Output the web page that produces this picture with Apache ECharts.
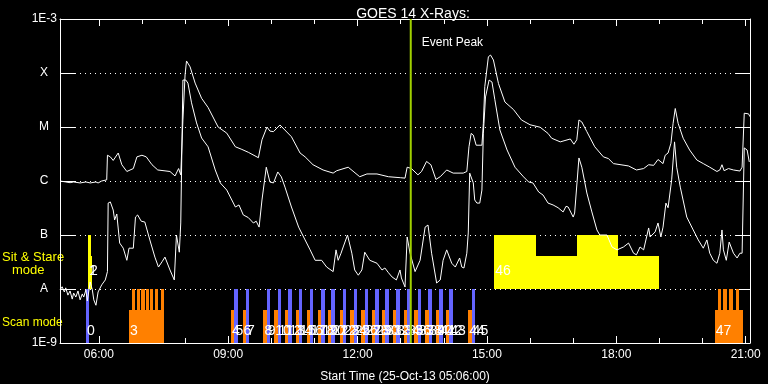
<!DOCTYPE html>
<html><head><meta charset="utf-8">
<script src="https://cdn.jsdelivr.net/npm/echarts@6/dist/echarts.min.js"></script>
<style>html,body{margin:0;padding:0;background:#000}#c{width:768px;height:384px}</style>
</head><body><div id="c"></div>
<script>
// ---------------- DATA ----------------
const titleText = 'GOES 14 X-Rays:';
const xAxisTitle = 'Start Time (25-Oct-13 05:06:00)';
const timeStart = '05:06', timeEnd = '21:06';
const xTickLabels = ['06:00','09:00','12:00','15:00','18:00','21:00'];
const xMinorTicks = ['06:00','07:00','08:00','09:00','10:00','11:00','12:00','13:00','14:00','15:00','16:00','17:00','18:00','19:00','20:00','21:00'];
const yTickLabels = ['1E-9','A','B','C','M','X','1E-3']; // 1e-9 ... 1e-3
const eventPeak = '13:14';

// GOES long channel (1-8 A), W/m^2
const goesLong = [
['05:06',1.0e-6],['05:14',9.6e-7],['05:20',9.3e-7],['05:25',9.6e-7],['05:34',9.2e-7],['05:42',9.6e-7],['05:48',9.2e-7],['05:56',9.6e-7],['05:59',9.2e-7],['06:04',1.0e-6],['06:11',1.05e-6],
['06:12',3.0e-6],['06:16',2.8e-6],['06:20',2.4e-6],['06:27',3.3e-6],['06:32',2.0e-6],['06:39',1.5e-6],['06:48',1.7e-6],['06:53',2.8e-6],['07:00',3.0e-6],['07:06',2.8e-6],['07:14',2.0e-6],['07:22',1.6e-6],['07:39',1.5e-6],['07:46',1.24e-6],['07:51',1.7e-6],['07:54',1.3e-6],
['07:57',1.35e-5],['08:00',9.2e-5],['08:02',1.67e-4],['08:04',1.6e-4],['08:07',1.3e-4],['08:14',6.5e-5],['08:23',3.4e-5],['08:32',2.3e-5],['08:46',1.0e-5],['08:58',7.7e-6],['09:10',4.3e-6],['09:18',3.9e-6],['09:28',3.4e-6],['09:42',2.7e-6],
['09:47',5.8e-6],['09:54',1.0e-5],['09:58',8.4e-6],['10:03',8.2e-6],['10:12',1.09e-5],['10:28',6.6e-6],['10:40',3.3e-6],['10:47',2.8e-6],['10:58',2.0e-6],['11:12',1.6e-6],['11:26',1.4e-6],['11:31',1.55e-6],['11:47',1.8e-6],['12:03',1.2e-6],['12:13',1.35e-6],['12:27',1.35e-6],['12:43',1.2e-6],['13:00',1.15e-6],['13:06',1.13e-6],
['13:09',1.8e-6],['13:15',1.7e-6],['13:24',1.3e-6],['13:29',1.5e-6],['13:36',2.3e-6],['13:42',2.0e-6],['13:49',1.07e-6],['13:55',1.2e-6],['14:04',1.6e-6],['14:13',1.4e-6],['14:27',1.4e-6],['14:32',1.5e-6],
['14:35',4.3e-6],['14:38',7.6e-6],['14:41',7.1e-6],['14:45',4.6e-6],['14:53',4.6e-6],['14:55',1.17e-5],['14:57',5.6e-5],['15:02',2.0e-4],['15:05',2.15e-4],['15:09',1.74e-4],['15:16',6.4e-5],['15:25',2.9e-5],['15:37',2.1e-5],['15:48',1.35e-5],['16:00',1.1e-5],['16:14',9.9e-6],['16:25',7.6e-6],['16:30',6.2e-6],['16:42',5.3e-6],['16:56',6.0e-6],['17:01',4.8e-6],['17:05',5.8e-6],
['17:08',1.35e-5],['17:12',1.24e-5],['17:19',8.2e-6],['17:30',4.3e-6],['17:42',2.8e-6],['17:49',2.6e-6],['17:56',2.1e-6],['18:17',1.9e-6],['18:28',1.6e-6],['18:38',1.7e-6],['18:45',2.0e-6],['18:52',1.95e-6],['18:58',2.5e-6],['19:05',2.1e-6],['19:08',3.0e-6],['19:12',3.3e-6],['19:16',5.0e-6],
['19:19',1.17e-5],['19:22',2.2e-5],['19:26',1.17e-5],['19:33',6.2e-6],['19:42',3.75e-6],['19:52',2.45e-6],['20:01',2.1e-6],['20:10',1.8e-6],['20:20',1.5e-6],['20:24',1.6e-6],['20:27',2.0e-6],['20:30',1.55e-6],['20:36',1.7e-6],['20:38',1.8e-6],['20:43',1.6e-6],['20:52',1.53e-6],['20:55',1.8e-6],
['20:58',1.8e-5],['21:04',1.75e-5],['21:06',1.55e-5]
];

// GOES short channel (0.5-4 A), W/m^2
const goesShort = [
['05:06',9.6e-9],['05:09',1.1e-8],['05:12',8.8e-9],['05:14',1.05e-8],['05:17',7.7e-9],['05:20',9.2e-9],['05:23',6.5e-9],['05:25',8.4e-9],['05:28',7.1e-9],['05:31',9.2e-9],['05:34',6.3e-9],['05:37',8.1e-9],['05:39',7.1e-9],['05:42',9.6e-9],['05:44',6.0e-9],['05:48',1.35e-8],['05:51',9.6e-9],['05:53',6.3e-9],['05:56',5.0e-9],['05:59',8.8e-9],['06:04',1.19e-8],['06:09',1.47e-8],['06:12',2.1e-8],
['06:13',3.9e-7],['06:16',4.1e-7],['06:20',2.9e-7],['06:22',1.9e-7],['06:25',2.45e-7],['06:29',7.1e-8],['06:34',5.7e-8],['06:39',3.4e-8],['06:42',5.7e-8],['06:48',5.7e-8],['06:51',2.15e-7],['06:54',2.35e-7],['06:59',1.8e-7],['07:04',1.74e-7],['07:11',8.1e-8],['07:18',3.9e-8],['07:23',2.55e-8],['07:28',3.2e-8],['07:32',3.9e-8],['07:39',2.25e-8],['07:45',1.47e-8],['07:48',1.0e-7],['07:52',4.8e-8],['07:54',1.67e-7],
['07:57',7.4e-5],['08:01',7.4e-5],['08:04',6.5e-5],['08:09',2.8e-5],['08:16',1.19e-5],['08:23',6.25e-6],['08:32',4.3e-6],['08:42',1.6e-6],['08:49',9.2e-7],['08:58',6.8e-7],['09:10',3.3e-7],['09:15',3.6e-7],['09:21',2.35e-7],['09:28',2.1e-7],['09:35',1.67e-7],['09:39',1.8e-7],['09:43',1.4e-7],
['09:47',4.45e-7],['09:53',1.8e-6],['09:58',9.6e-7],['10:03',9.2e-7],['10:09',1.47e-6],['10:14',1.19e-6],['10:19',7.7e-7],['10:28',3.3e-7],['10:38',1.4e-7],['10:47',8.1e-8],['10:54',5.3e-8],['11:01',3.4e-8],['11:10',3.4e-8],['11:17',2.55e-8],['11:26',2.1e-8],['11:30',5.3e-8],['11:33',3.4e-8],['11:37',4.6e-8],['11:40',6.0e-8],['11:46',1.0e-7],['11:52',4.6e-8],['11:56',2.25e-8],['12:01',1.8e-8],['12:06',2.25e-8],['12:10',4.8e-8],['12:17',3.4e-8],['12:27',3.0e-8],['12:34',2.25e-8],['12:38',2.45e-8],['12:43',2.0e-8],['12:48',1.67e-8],['12:54',1.47e-8],['12:59',2.25e-8],['13:01',1.6e-8],['13:06',1.09e-8],
['13:09',9.2e-8],['13:13',4.6e-8],['13:20',2.1e-8],['13:27',3.4e-8],['13:34',1.4e-7],['13:38',1.53e-7],['13:43',4.6e-8],['13:50',1.29e-8],['13:55',1.47e-8],['13:59',3.4e-8],['14:04',5.3e-8],['14:11',3.0e-8],['14:16',2.55e-8],['14:22',3.75e-8],['14:25',2.55e-8],['14:28',2.45e-8],['14:32',4.6e-8],['14:34',1.09e-7],
['14:36',1.4e-6],['14:41',9.2e-7],['14:43',4.45e-7],['14:46',3.9e-7],['14:50',3.9e-7],['14:53',6.8e-7],['14:55',7.7e-6],['14:58',3.6e-5],['15:03',7.4e-5],['15:07',6.8e-5],['15:11',3.2e-5],['15:18',8.8e-6],['15:28',3.75e-6],['15:39',1.8e-6],['15:51',1.19e-6],['15:58',9.6e-7],['16:04',9.2e-7],['16:12',6.25e-7],['16:18',5.5e-7],['16:25',3.9e-7],['16:32',3.6e-7],['16:39',3.2e-7],['16:46',2.67e-7],['16:50',3.4e-7],['16:53',3.3e-7],['17:00',2.15e-7],['17:02',2.55e-7],
['17:08',2.67e-6],['17:12',1.8e-6],['17:19',6.0e-7],['17:26',2.67e-7],['17:33',1.24e-7],['17:37',1.0e-7],['17:47',1.0e-7],['17:54',6.0e-8],['18:01',5.3e-8],['18:10',6.0e-8],['18:17',7.1e-8],['18:24',4.6e-8],['18:28',4.3e-8],['18:33',6.0e-8],['18:38',5.3e-8],['18:45',1.35e-7],['18:47',9.2e-8],['18:54',1.14e-7],['18:58',1.67e-7],['19:02',9.2e-8],['19:05',1.4e-7],['19:09',3.9e-7],['19:12',3.2e-7],
['19:17',1.05e-6],['19:21',5.3e-6],['19:24',1.8e-6],['19:29',7.7e-7],['19:38',2.15e-7],['19:47',1.24e-7],['19:54',8.1e-8],['20:01',5.7e-8],['20:06',8.1e-8],['20:10',4.6e-8],['20:15',3.4e-8],['20:20',3.0e-8],['20:24',4.6e-8],['20:27',1.24e-7],['20:29',5.3e-8],['20:33',3.4e-8],['20:37',7.4e-8],['20:43',4.6e-8],['20:48',3.75e-8],['20:52',4.6e-8],['20:55',4.6e-8],
['20:58',4.1e-6],['21:02',3.75e-6],['21:05',2.25e-6]
];

// IRIS observations
const scanDur = 4.7; // minutes per scan exposure
const scanBlue = [[0,'05:42'],[5,'09:08:40'],[7,'09:24:40'],[9,'09:53:40'],[11,'10:08:40'],[13,'10:23:40'],[15,'10:38:40'],[17,'10:53:40'],[19,'11:09:40'],[21,'11:23:40'],[23,'11:39:40'],[25,'11:54:40'],[27,'12:09:40'],[29,'12:24:40'],[31,'12:38:40'],[33,'12:53:40'],[35,'13:08:40'],[37,'13:23:40'],[39,'13:38:40'],[41,'13:53:40'],[43,'14:07:40'],[45,'14:38:40']];
const scanOrange = [[4,'09:04'],[6,'09:20'],[8,'09:49'],[10,'10:04'],[12,'10:19'],[14,'10:34'],[16,'10:49'],[18,'11:05'],[20,'11:19'],[22,'11:35'],[24,'11:50'],[26,'12:05'],[28,'12:20'],[30,'12:34'],[32,'12:49'],[34,'13:04'],[36,'13:19'],[38,'13:34'],[40,'13:49'],[42,'14:03'],[44,'14:34']];
const rasterIds = [3, 47];
const rasterSpans = [['06:42','07:31'],['20:17','20:56']];
const rasterSteps = [['06:46','06:53','06:59','07:05','07:11','07:18','07:26:30'],['20:21','20:29','20:37','20:46']];
// sit & stare: [id, start, end, full?]
const sitStare = [[1,'05:45','05:48',true],[2,'05:46:30','05:50',false],[46,'15:10','16:08',true],[46,'16:08','17:05',false],[46,'17:05','18:02',true],[46,'18:02','18:59',false]];

// ---------------- BUILD ----------------
function tm(s){const p=s.split(':').map(Number);return p[0]*60+p[1]+(p[2]||0)/60;}
const FONT = "'Liberation Sans', Arial, sans-serif";
const BLUE='#6464ff', ORANGE='#ff8000', YELLOW='#ffff00', GREEN='#a0d000';
const LO=1e-9, SCAN_TOP=1e-8, SCAN_MID=4.1e-9, SS_TOP=1e-7, SS_MID=4.1e-8;

const bars=[], labels=[];
scanBlue.forEach(([id,t])=>{const s=tm(t);bars.push([s,s+scanDur,LO,SCAN_TOP,BLUE]);labels.push([s,LO,String(id),5]);});
scanOrange.forEach(([id,t])=>{const s=tm(t);bars.push([s,s+scanDur,LO,SCAN_MID,ORANGE]);labels.push([s,LO,String(id),5]);});
rasterIds.forEach((id,i)=>{
  const s=tm(rasterSpans[i][0]), e=tm(rasterSpans[i][1]);
  bars.push([s,e,LO,SCAN_MID,ORANGE]);
  rasterSteps[i].forEach(t=>{const a=tm(t);bars.push([a,a+scanDur,LO,SCAN_TOP,ORANGE]);});
  labels.push([s,LO,String(id),5]);
});
const seen={};
sitStare.forEach(([id,a,b,full])=>{
  const s=tm(a),e=tm(b);
  bars.push([s,e,SCAN_TOP,full?SS_TOP:SS_MID,YELLOW]);
  if(!seen[id]){seen[id]=1;labels.push([s,SCAN_TOP,String(id),11]);}
});

const yLabelMap={};
yTickLabels.forEach((l,i)=>{yLabelMap[-9+i]=l;});

const chart=echarts.init(document.getElementById('c'),null,{renderer:'canvas'});
const xMin=tm(timeStart), xMax=tm(timeEnd);
const majorVals=xTickLabels.map(tm), minorVals=xMinorTicks.map(tm);
const axisCol='#ffffff';
function xAx(pos, vals, len, showLine, showLabel){
  return {type:'value',min:xMin,max:xMax,position:pos,gridIndex:0,
    axisLine:{show:showLine,onZero:false,lineStyle:{color:axisCol,width:1}},
    axisTick:{show:true,inside:true,length:len,customValues:vals,lineStyle:{color:axisCol,width:1}},
    axisLabel:{show:showLabel,customValues:vals,color:'#fff',fontFamily:FONT,fontSize:12,margin:6,
      formatter:v=>{const h=Math.round(v/60);return (h<10?'0':'')+h+':00';}},
    splitLine:{show:false}};
}
const xAxes=[xAx('bottom',majorVals,7,true,true),xAx('bottom',minorVals,5,false,false),xAx('top',majorVals,7,true,false),xAx('top',minorVals,5,false,false)];
xAxes[0].name=xAxisTitle;xAxes[0].nameLocation='middle';xAxes[0].nameGap=28;
xAxes[0].nameTextStyle={color:'#fff',fontFamily:FONT,fontSize:12};

const option={
  backgroundColor:'#000',
  animation:false,
  title:{text:titleText,left:408,top:2,textAlign:'center',textStyle:{color:'#fff',fontFamily:FONT,fontSize:14,fontWeight:'normal'}},
  grid:{left:60,right:18,top:19,bottom:41,outerBoundsMode:'none',containLabel:false},
  xAxis:xAxes,
  yAxis:[
    {type:'log',logBase:10,min:1e-9,max:1e-3,position:'left',splitNumber:6,
     axisLine:{show:true,lineStyle:{color:axisCol,width:1}},
     axisTick:{show:true,inside:true,length:15,lineStyle:{color:axisCol,width:1}},
     minorTick:{show:false},
     axisLabel:{color:'#fff',fontFamily:FONT,fontSize:12,margin:3,align:'right',
       formatter:v=>{const e=Math.round(Math.log10(v));const l=yLabelMap[e]||'';return l.length>1?'{n|'+l+'}':'{c|'+l+'}';},
       rich:{n:{color:'#fff',fontFamily:FONT,fontSize:12},c:{color:'#fff',fontFamily:FONT,fontSize:12,width:26,align:'center'}}},
     splitLine:{show:true,lineStyle:{color:'#fff',width:1,type:[1,4]}}},
    {type:'log',logBase:10,min:1e-9,max:1e-3,position:'right',splitNumber:6,
     axisLine:{show:true,lineStyle:{color:axisCol,width:1}},
     axisTick:{show:true,inside:true,length:14,lineStyle:{color:axisCol,width:1}},
     axisLabel:{show:false},splitLine:{show:false}}
  ],
  graphic:[
    {type:'text',left:2,top:251,style:{text:'Sit & Stare',fill:YELLOW,font:'13px '+FONT}},
    {type:'text',left:12,top:264,style:{text:'mode',fill:YELLOW,font:'13px '+FONT}},
    {type:'text',left:2,top:317,style:{text:'Scan mode',fill:YELLOW,font:'12px '+FONT}}
  ],
  series:[
    {type:'custom',name:'obs',xAxisIndex:0,yAxisIndex:0,z:2,clip:true,
     data:bars.map(b=>[b[0],b[1],b[2],b[3]]),encode:{x:[0,1],y:[2,3]},
     renderItem:(params,api)=>{const b=bars[params.dataIndex];const p0=api.coord([b[0],b[3]]);const p1=api.coord([b[1],b[2]]);
       const x0=Math.round(p0[0]), x1=Math.max(Math.round(p1[0]), x0+3), y0=Math.round(p0[1]), y1=Math.round(p1[1]);
       return {type:'rect',shape:{x:x0,y:y0,width:x1-x0,height:y1-y0},style:{fill:b[4]}};}},
    {type:'line',name:'long',xAxisIndex:0,yAxisIndex:0,z:3,showSymbol:false,symbol:'none',
     lineStyle:{color:'#fff',width:1},data:goesLong.map(d=>[tm(d[0]),d[1]])},
    {type:'line',name:'short',xAxisIndex:0,yAxisIndex:0,z:3,showSymbol:false,symbol:'none',
     lineStyle:{color:'#fff',width:1},data:goesShort.map(d=>[tm(d[0]),d[1]])},
    {type:'custom',name:'labels',xAxisIndex:0,yAxisIndex:0,z:4,
     data:labels.map(l=>[l[0],l[1]]),encode:{x:0,y:1},
     renderItem:(params,api)=>{const l=labels[params.dataIndex];const p=api.coord([l[0],l[1]]);
       return {type:'text',x:p[0]+1,y:p[1]-l[3],style:{text:l[2],fill:'#fff',font:'14px '+FONT,align:'left',verticalAlign:'bottom'}};}},
    {type:'custom',name:'event',xAxisIndex:0,yAxisIndex:0,z:5,
     data:[[tm(eventPeak),1e-3]],encode:{x:0,y:1},
     renderItem:(params,api)=>{const t=api.value(0);const p1=api.coord([t,1e-3]);const p2=api.coord([t,1e-9]);
       return {type:'group',children:[
         {type:'line',shape:{x1:p1[0],y1:p1[1],x2:p2[0],y2:p2[1]},style:{stroke:GREEN,lineWidth:2}},
         {type:'text',x:p1[0]+11,y:p1[1]+24,style:{text:'Event Peak',fill:'#fff',font:'12px '+FONT,align:'left',verticalAlign:'middle'}}]};}}
  ]
};
chart.setOption(option);
</script></body></html>
